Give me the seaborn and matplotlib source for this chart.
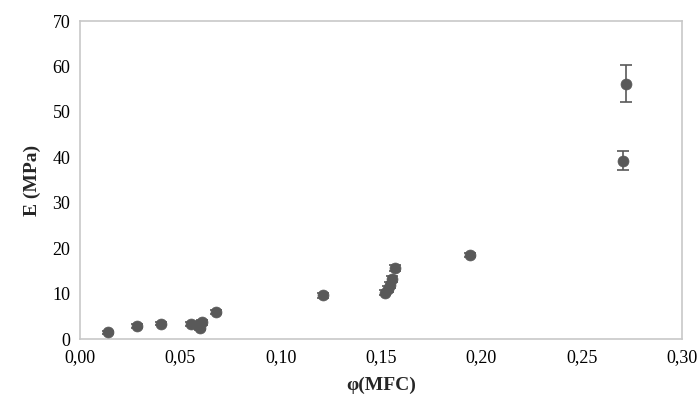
import matplotlib
matplotlib.use("Agg")
import matplotlib.pyplot as plt
import seaborn as sns
import pandas as pd
from matplotlib.ticker import FuncFormatter

# volume fraction of MFC and Young's modulus (MPa)
phi = [0.0141, 0.0285, 0.0403, 0.0551, 0.0590, 0.0598, 0.0606, 0.0676,
       0.1209, 0.1519, 0.1535, 0.1544, 0.1552, 0.1569, 0.1942,
       0.2706, 0.2719]
E = [1.5, 2.9, 3.4, 3.3, 3.0, 2.4, 3.7, 5.9,
     9.6, 10.2, 11.0, 11.9, 13.2, 15.6, 18.5,
     39.3, 56.2]
E_err = [0.3, 0.4, 0.3, 0.4, 0.4, 0.4, 0.5, 0.4,
         0.5, 0.5, 0.6, 0.6, 0.7, 0.6, 0.5,
         2.0, 4.1]

df = pd.DataFrame({"phi": phi, "E": E, "err": E_err})

sns.set_style("white")
plt.rcParams["font.family"] = ["Liberation Serif", "DejaVu Serif"]

fig, ax = plt.subplots(figsize=(6.99, 4.13), dpi=100)
fig.subplots_adjust(left=0.1145, right=0.976, bottom=0.179, top=0.949)

ax.errorbar(df["phi"], df["E"], yerr=df["err"], fmt="none",
            ecolor="#595959", elinewidth=1.2, capsize=4.3, capthick=1.2, zorder=2)
sns.scatterplot(data=df, x="phi", y="E", ax=ax, color="#595959", s=62,
                edgecolor="#595959", linewidth=0.5, zorder=3)

ax.set_xlim(0, 0.30)
ax.set_ylim(0, 70)
ax.set_xticks([0, 0.05, 0.10, 0.15, 0.20, 0.25, 0.30])
ax.set_yticks(range(0, 71, 10))
ax.xaxis.set_major_formatter(FuncFormatter(lambda v, p: f"{v:.2f}".replace(".", ",")))

for s in ax.spines.values():
    s.set_color("#c8c8c8")
    s.set_linewidth(1.2)
ax.tick_params(direction="in", length=4, color="#b0b0b0", labelsize=13,
               labelcolor="black", pad=7)
ax.tick_params(axis="y", length=0)

ax.set_xlabel("φ(MFC)", fontsize=14, fontweight="bold", labelpad=8)
ax.set_ylabel("E (MPa)", fontsize=14, fontweight="bold", labelpad=8)

fig.savefig("out.png", dpi=100)
